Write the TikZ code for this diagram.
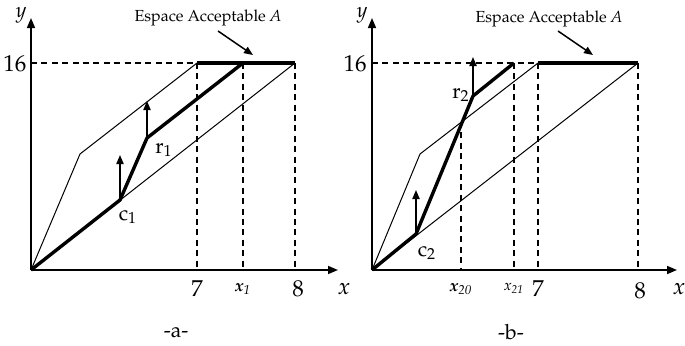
\documentclass[tikz,border=0pt]{standalone}
\usepackage[T1]{fontenc}
\usepackage{mathpazo}
\usetikzlibrary{arrows.meta}

\begin{document}
\begin{tikzpicture}[x=0.5pt, y=-0.5pt,
  axis/.style={line width=0.8pt, -{Triangle[length=5pt,width=4pt]}},
  border/.style={line width=0.5pt},
  route/.style={line width=1.7pt, line join=round},
  guide/.style={line width=0.75pt, dash pattern=on 3pt off 2.2pt},
  lift/.style={line width=0.75pt, -{Triangle[length=4.5pt,width=3.6pt]}},
  pointer/.style={line width=0.75pt, -{Triangle[length=4.5pt,width=3.6pt]}},
  tick/.style={inner sep=0pt, font=\fontsize{11.5}{13}\selectfont},
  varlab/.style={inner sep=0pt, font=\fontsize{8.5}{10}\selectfont},
  ptlab/.style={inner sep=0pt, font=\fontsize{10.5}{12}\selectfont},
  title/.style={inner sep=0pt, font=\fontsize{8}{10}\selectfont}]
\useasboundingbox (0,0) rectangle (685,345);

% ---- panel a
\coordinate (Oa) at (31,270);
\coordinate (Ya) at (31,18);
\coordinate (Ea) at (338,270);
\coordinate (Ha) at (31,63);
\coordinate (Ta) at (80,154);
\coordinate (Ua) at (197,63);
\coordinate (Xa) at (243,63);
\coordinate (Va) at (295,63);
\coordinate (c1) at (120,200);
\coordinate (r1) at (147,138);
\coordinate (c1up) at (120,155);
\coordinate (r1up) at (147,101);
\coordinate (qa) at (218,31);
\coordinate (pa) at (253,55);

\draw[border] (Oa) -- (Ta) -- (Ua);
\draw[border] (Oa) -- (Va);
\draw[guide] (Ha) -- (Va);
\draw[guide] (Ua) -- (Ua |- Oa);
\draw[guide] (Xa) -- (Xa |- Oa);
\draw[guide] (Va) -- (Va |- Oa);
\draw[route] (Oa) -- (c1) -- (r1) -- (Xa);
\draw[route] (Ua) -- (Va);
\draw[axis] (Oa) -- (Ya);
\draw[axis] (Oa) -- (Ea);
\draw[lift] (c1) -- (c1up);
\draw[lift] (r1) -- (r1up);
\draw[pointer] (qa) -- (pa);

\node[tick] (sixteena) at (15,64) {16};
\node[ptlab] (ya) at (21,15) {\textit{y}};
\node[tick] (sevena) at (197,289) {7};
\node[varlab] (x1) at (243,289) {\textit{\textbf{x}\textsubscript{1}}};
\node[tick] (eighta) at (298,289) {8};
\node[tick] (xa) at (344,289) {\textit{x}};
\node[ptlab] (r1lab) at (164,150) {r\textsubscript{1}};
\node[ptlab] (c1lab) at (128,217) {c\textsubscript{1}};
\node[ptlab] (capa) at (176,332) {-a-};
\node[title] (espa) at (208,18) {Espace Acceptable \textit{A}};

% ---- panel b
\coordinate (Ob) at (372,270);
\coordinate (Yb) at (372,18);
\coordinate (Eb) at (677,270);
\coordinate (Hb) at (372,63);
\coordinate (Tb) at (420,154);
\coordinate (Ub) at (538,63);
\coordinate (Vb) at (638,63);
\coordinate (Xb) at (514,63);
\coordinate (Ib) at (461,122);
\coordinate (c2) at (416,234);
\coordinate (r2) at (473,96);
\coordinate (c2up) at (416,190);
\coordinate (r2up) at (473,57);
\coordinate (qb) at (558,31);
\coordinate (pb) at (593,55);

\draw[border] (Ob) -- (Tb) -- (Ub);
\draw[border] (Ob) -- (Vb);
\draw[guide] (Hb) -- (Vb);
\draw[guide] (Ib) -- (Ib |- Ob);
\draw[guide] (Xb) -- (Xb |- Ob);
\draw[guide] (Ub) -- (Ub |- Ob);
\draw[guide] (Vb) -- (Vb |- Ob);
\draw[route] (Ob) -- (c2) -- (r2) -- (Xb);
\draw[route] (Ub) -- (Vb);
\draw[axis] (Ob) -- (Yb);
\draw[axis] (Ob) -- (Eb);
\draw[lift] (c2) -- (c2up);
\draw[lift] (r2) -- (r2up);
\draw[pointer] (qb) -- (pb);

\node[tick] (sixteenb) at (355,64) {16};
\node[ptlab] (yb) at (362,15) {\textit{y}};
\node[varlab] (x20) at (461,289) {\textit{\textbf{x}\textsubscript{20}}};
\node[varlab, font=\fontsize{7.5}{9}\selectfont] (x21) at (514,288) {\textit{x\textsubscript{21}}};
\node[tick] (sevenb) at (538,289) {7};
\node[tick] (eightb) at (640,291) {8};
\node[tick] (xb) at (679,289) {\textit{x}};
\node[ptlab] (r2lab) at (461,95) {r\textsubscript{2}};
\node[ptlab] (c2lab) at (427,253) {c\textsubscript{2}};
\node[ptlab] (capb) at (511,332) {-b-};
\node[title] (espb) at (549,19) {Espace Acceptable \textit{A}};
\end{tikzpicture}
\end{document}
